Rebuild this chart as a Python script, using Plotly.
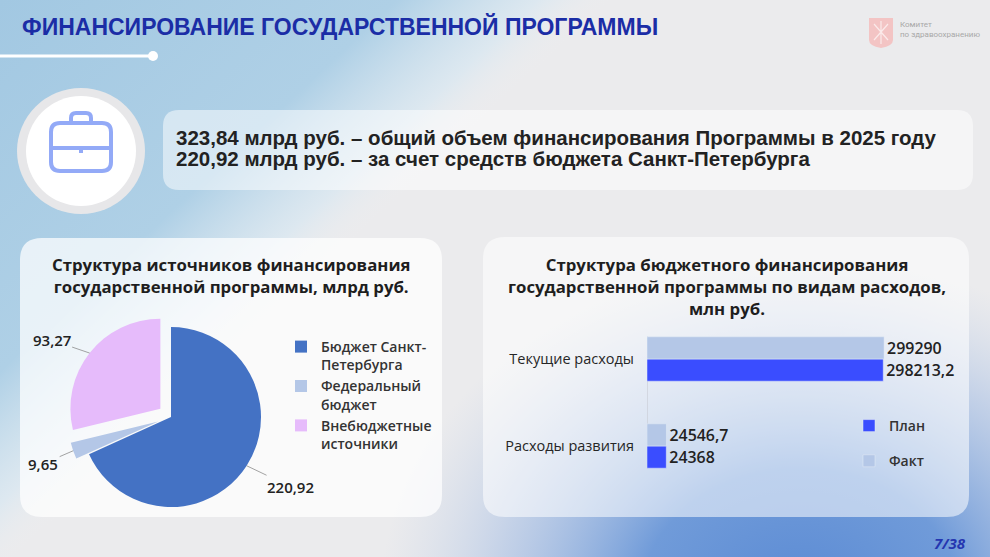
import base64
import math
import plotly.graph_objects as go

W, H = 990, 557

# --- data -------------------------------------------------------------
pie_labels = ["Бюджет Санкт-<br>Петербурга", "Федеральный<br>бюджет", "Внебюджетные<br>источники"]
pie_values = [220.92, 9.65, 93.27]   # млрд руб.
pie_colors = ["#4472C4", "#B4C7E7", "#E6BBFB"]
pie_pull = [0, 0.15, 0.15]

bar_categories = ["Текущие расходы", "Расходы развития"]
plan_values = [298213.2, 24368]      # млн руб.
fact_values = [299290, 24546.7]

budget_spb = pie_values[0]
total = sum(pie_values)


def num(v, digits=1):
    s = f"{v:.{digits}f}"
    if "." in s:
        s = s.rstrip("0").rstrip(".")
    return s.replace(".", ",")


def rrect(x0, y0, x1, y1, r):
    return (f"M{x0 + r},{y0} H{x1 - r} Q{x1},{y0} {x1},{y0 + r} V{y1 - r} "
            f"Q{x1},{y1} {x1 - r},{y1} H{x0 + r} Q{x0},{y1} {x0},{y1 - r} "
            f"V{y0 + r} Q{x0},{y0} {x0 + r},{y0} Z")


# background gradients (decoration only)
bg_svg = """<svg xmlns="http://www.w3.org/2000/svg" width="990" height="557" viewBox="0 0 990 557">
<defs>
<linearGradient id="g1" gradientUnits="userSpaceOnUse" x1="0" y1="0" x2="285" y2="305">
<stop offset="0" stop-color="#A2C8E2"/>
<stop offset="0.65" stop-color="#AFD0E6"/>
<stop offset="0.88" stop-color="#D8E7F1" stop-opacity="0.75"/>
<stop offset="1" stop-color="#EDEEF0" stop-opacity="0"/>
</linearGradient>
<radialGradient id="g2" gradientUnits="userSpaceOnUse" cx="800" cy="600" r="300"
 gradientTransform="translate(800,600) scale(1.4,1.15) translate(-800,-600)">
<stop offset="0" stop-color="#5A8AD4"/>
<stop offset="0.38" stop-color="#709BD9"/>
<stop offset="0.72" stop-color="#A9C0E4" stop-opacity="0.6"/>
<stop offset="1" stop-color="#C4D2E8" stop-opacity="0"/>
</radialGradient>
</defs>
<rect width="990" height="557" fill="#EBEBED"/>
<rect width="990" height="557" fill="url(#g1)"/>
<rect width="990" height="557" fill="url(#g2)"/>
</svg>"""
bg_src = "data:image/svg+xml;base64," + base64.b64encode(bg_svg.encode()).decode()

fig = go.Figure()

# --- pie ----------------------------------------------------------------
R = 90
cx, cy = 171, 417
box = R * (2 + 2 * max(pie_pull))
fig.add_trace(go.Pie(
    labels=pie_labels, values=pie_values, sort=False, direction="clockwise", rotation=0,
    marker=dict(colors=pie_colors, line=dict(width=0)), pull=pie_pull,
    textinfo="none", hovertemplate="%{label}: %{value}<extra></extra>",
    domain=dict(x=[(cx - box / 2) / W, (cx + box / 2) / W],
                y=[1 - (cy + box / 2) / H, 1 - (cy - box / 2) / H]),
    legend="legend",
))

# --- bars ---------------------------------------------------------------
bar_font = dict(family="Open Sans", size=16.5, color="#222222", weight=600)
fig.add_trace(go.Bar(
    name="План", y=bar_categories, x=plan_values, orientation="h",
    marker=dict(color="#3A4DFF"), text=[num(v) for v in plan_values],
    textposition="outside", cliponaxis=False, xaxis="x2", yaxis="y2",
    legend="legend2", legendgroup="plan", textfont=bar_font,
))
fig.add_trace(go.Bar(
    name="Факт", y=bar_categories, x=fact_values, orientation="h",
    marker=dict(color="#B4C7E7"), text=[num(v) for v in fact_values],
    textposition="outside", cliponaxis=False, xaxis="x2", yaxis="y2",
    legend="legend2", legendgroup="fact", textfont=bar_font,
))

# --- decoration shapes (pixel axes x/y) ----------------------------------
px = dict(xref="x", yref="y", layer="below")
icon = dict(color="#93AAF7", width=4)
shapes = [
    dict(type="line", x0=0, y0=56, x1=150, y1=56, line=dict(color="white", width=3), **px),
    dict(type="circle", x0=148, y0=51, x1=158, y1=61, fillcolor="white", line=dict(width=0), **px),
    dict(type="circle", x0=17, y0=88, x1=145, y1=214, fillcolor="#E7E7E9", line=dict(width=0), **px),
    dict(type="circle", x0=26, y0=96, x1=136, y1=206, fillcolor="#FFFFFF", line=dict(width=0), **px),
    dict(type="path", path=rrect(51, 123, 111, 171, 9), line=icon, **px),
    dict(type="path", path="M71,123 V118 Q71,113 76,113 H86 Q91,113 91,118 V123", line=icon, **px),
    dict(type="path", path="M51,148 H111", line=icon, **px),
    dict(type="path", path="M81,148 V153", line=icon, **px),
    dict(type="path", path=rrect(163, 110, 973, 190, 16), fillcolor="rgba(255,255,255,0.5)",
         line=dict(width=0), **px),
    dict(type="path", path=rrect(20, 238, 442, 517, 22), fillcolor="rgba(255,255,255,0.72)",
         line=dict(width=0), **px),
    dict(type="path", path=rrect(483, 237, 969, 517, 22), fillcolor="rgba(255,255,255,0.55)",
         line=dict(width=0), **px),
    dict(type="path", path="M869,18 H893 V40 Q893,46 881,48 Q869,46 869,40 Z",
         fillcolor="#F3C4C4", line=dict(width=0), **px),
    dict(type="path", path="M874,24 L888,40 M888,24 L874,40 M881,21 V44",
         line=dict(color="#FBEAEA", width=1.2), **px),
    # axis line of the bar chart, only along the bars
    dict(type="line", xref="x2", yref="y2", x0=0, x1=0, y0=-0.26, y1=1.26,
         line=dict(color="#C8CCD4", width=1.2), layer="below"),
]

# --- texts --------------------------------------------------------------
txt = dict(xref="x", yref="y", showarrow=False)
narrow = "Liberation Sans Narrow, Arial Narrow, Liberation Sans"
annotations = [
    dict(x=20, y=26, xanchor="left", text="<b>ФИНАНСИРОВАНИЕ ГОСУДАРСТВЕННОЙ ПРОГРАММЫ</b>",
         font=dict(family=narrow, size=23, color="#1B2DA6"), **txt),
    dict(x=898, y=29, xanchor="left", align="left", text="Комитет<br>по здравоохранению",
         font=dict(family="Roboto", size=8, color="#A8A8A8"), **txt),
    dict(x=174, y=137, xanchor="left",
         text=f"<b>{num(total, 2)} млрд руб. – общий объем финансирования Программы в 2025 году</b>",
         font=dict(family=narrow, size=20.5, color="#222222"), **txt),
    dict(x=174, y=158, xanchor="left",
         text=f"<b>{num(budget_spb, 2)} млрд руб. – за счет средств бюджета Санкт-Петербурга</b>",
         font=dict(family=narrow, size=20.5, color="#222222"), **txt),
    dict(x=231, y=275, text="<b>Структура источников финансирования<br>государственной программы, млрд руб.</b>",
         font=dict(family="Open Sans", size=16.8, color="#1E1E1E"), **txt),
    dict(x=727, y=286, text=("<b>Структура бюджетного финансирования<br>"
                             "государственной программы по видам расходов,<br>млн руб.</b>"),
         font=dict(family="Open Sans", size=16.8, color="#1E1E1E"), **txt),
    dict(x=968, y=543, xanchor="right", text="<b><i>7/38</i></b>",
         font=dict(family="Open Sans", size=15, color="#2536B0"), **txt),
]

# pie value labels with leader lines
offsets = [(44, 21), (-30, 13), (-38, -13)]
acc = 0
for v, p, (ox, oy) in zip(pie_values, pie_pull, offsets):
    mid = (acc + v / 2) / total * 2 * math.pi
    acc += v
    tx = cx + R * (1 + p) * math.sin(mid)
    ty = cy - R * (1 + p) * math.cos(mid)
    annotations.append(dict(
        x=tx, y=ty, xref="x", yref="y", ax=ox, ay=oy, text=num(v, 2),
        showarrow=True, arrowhead=0, arrowwidth=0.8, arrowcolor="#8C8C8C", standoff=0,
        font=dict(family="Open Sans", size=15, color="#222222", weight=600),
    ))

fig.update_layout(
    width=W, height=H, margin=dict(l=0, r=0, t=0, b=0),
    paper_bgcolor="#EBEBED", plot_bgcolor="rgba(0,0,0,0)",
    images=[dict(source=bg_src, xref="paper", yref="paper", x=0, y=1, sizex=1, sizey=1,
                 xanchor="left", yanchor="top", sizing="stretch", layer="below")],
    xaxis=dict(domain=[0, 1], range=[0, W], visible=False, fixedrange=True),
    yaxis=dict(domain=[0, 1], range=[H, 0], visible=False, fixedrange=True),
    xaxis2=dict(domain=[647 / W, 891 / W], range=[0, 308000], anchor="y2", visible=False),
    yaxis2=dict(domain=[1 - 489.5 / H, 1 - 315.5 / H], anchor="x2", type="category",
                categoryorder="array", categoryarray=bar_categories[::-1],
                showgrid=False, zeroline=False, showline=False, ticks="",
                ticklabelstandoff=12,
                tickfont=dict(family="Open Sans", size=14.5, color="#262626")),
    barmode="group", bargap=0.49, bargroupgap=0,
    showlegend=True,
    legend=dict(x=281 / W, y=1 - 331 / H, xanchor="left", yanchor="top", valign="top",
                bgcolor="rgba(0,0,0,0)", font=dict(family="Open Sans", size=14, color="#333333", weight=600)),
    legend2=dict(x=849 / W, y=1 - 410 / H, xanchor="left", yanchor="top", traceorder="grouped",
                 tracegroupgap=14, bgcolor="rgba(0,0,0,0)",
                 font=dict(family="Open Sans", size=14, color="#333333", weight=600)),
    shapes=shapes, annotations=annotations,
)

fig.write_html("out.html", config={"displayModeBar": False},
               post_script="document.body.style.margin='0';")
